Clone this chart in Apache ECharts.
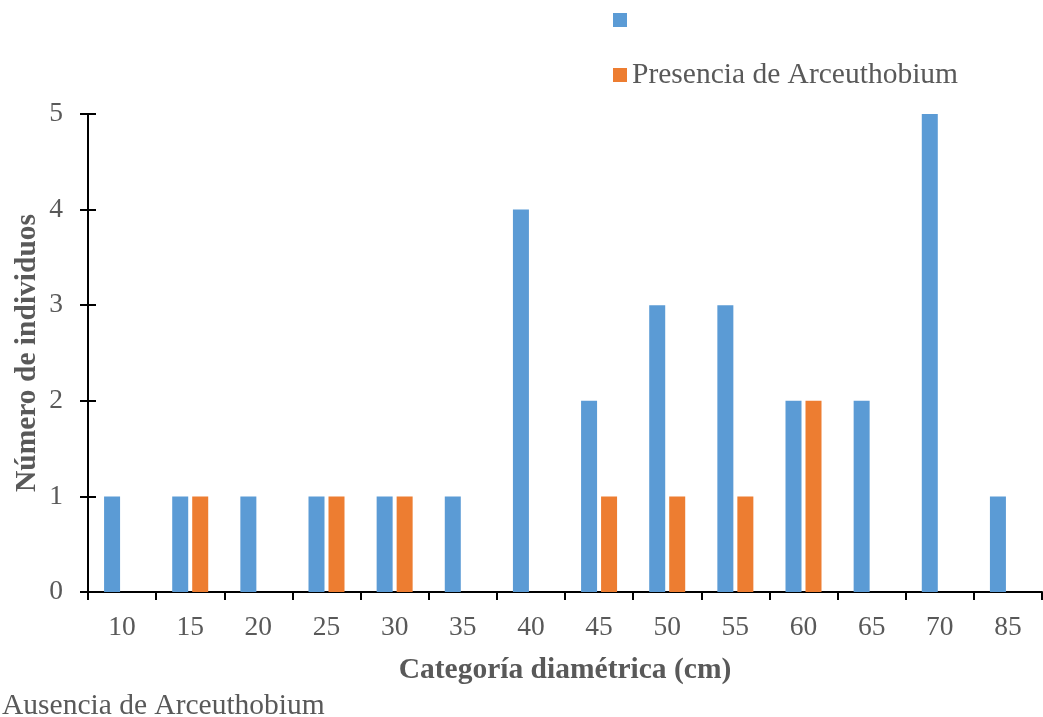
<!DOCTYPE html>
<html>
<head>
<meta charset="utf-8">
<script src="https://cdn.jsdelivr.net/npm/echarts@6/dist/echarts.min.js"></script>
<style>
  html, body { margin: 0; padding: 0; background: #fff; }
  #chart { width: 1043px; height: 717px; }
</style>
</head>
<body>
<div id="chart"></div>
<script>
// categorías diamétricas (cm)
var categorias = ['10', '15', '20', '25', '30', '35', '40', '45', '50', '55', '60', '65', '70', '85'];
var ausencia   = [1, 1, 1, 1, 1, 1, 4, 2, 3, 3, 2, 2, 5, 1];
var presencia  = [0, 1, 0, 1, 1, 0, 0, 1, 1, 1, 2, 0, 0, 0];
var yTicks     = [0, 1, 2, 3, 4, 5];

var nombreAus = 'Ausencia de Arceuthobium';
var nombrePre = 'Presencia de Arceuthobium';

var gris = '#595959';
var fuente = '"Liberation Serif", "Times New Roman", serif';

var chart = echarts.init(document.getElementById('chart'));

var option = {
    animation: false,
    textStyle: { fontFamily: fuente },
    grid: { left: 88, right: 1, top: 114, bottom: 125, containLabel: false },
    legend: {
        orient: 'vertical',
        left: 608,
        top: 0,
        itemWidth: 14,
        itemHeight: 14,
        itemGap: 25,
        icon: 'rect',
        data: [nombreAus, nombrePre],
        formatter: function (name) {
            // en el original el texto de la primera serie quedó abajo a la izquierda
            return name === nombreAus ? ' ' : name;
        },
        textStyle: { fontFamily: fuente, fontSize: 29.5, color: gris, lineHeight: 28 }
    },
    graphic: [{
        type: 'text',
        left: 2,
        top: 691,
        style: { text: nombreAus, font: '29.5px ' + fuente, fill: gris }
    }],
    xAxis: {
        type: 'category',
        data: categorias,
        name: 'Categoría diamétrica (cm)',
        nameLocation: 'middle',
        nameGap: 63,
        nameMoveOverlap: false,
        nameTextStyle: { fontFamily: fuente, fontSize: 29.5, fontWeight: 'bold', color: gris },
        axisLine: { lineStyle: { color: '#000', width: 2 } },
        axisTick: { show: true, length: 8, lineStyle: { color: '#000', width: 2 } },
        axisLabel: { fontFamily: fuente, fontSize: 27.5, color: gris, margin: 22 }
    },
    yAxis: [{
        type: 'value',
        min: yTicks[0],
        max: yTicks[yTicks.length - 1],
        interval: 1,
        name: 'Número de individuos',
        nameLocation: 'middle',
        nameGap: 46,
        nameMoveOverlap: false,
        nameTextStyle: { fontFamily: fuente, fontSize: 29.5, fontWeight: 'bold', color: gris },
        axisLine: { show: true, lineStyle: { color: '#000', width: 2 } },
        axisTick: { show: true, length: 8, lineStyle: { color: '#000', width: 2 } },
        axisLabel: { fontFamily: fuente, fontSize: 27.5, color: gris, margin: 25 },
        splitLine: { show: false }
    }, {
        // marcas hacia dentro para que crucen el eje
        type: 'value',
        position: 'left',
        min: yTicks[0],
        max: yTicks[yTicks.length - 1],
        interval: 1,
        axisLine: { show: false },
        axisTick: { show: true, inside: true, length: 8, lineStyle: { color: '#000', width: 2 } },
        axisLabel: { show: false },
        splitLine: { show: false }
    }],
    series: [{
        name: nombreAus,
        type: 'bar',
        data: ausencia,
        barWidth: 16,
        barGap: '25%',
        itemStyle: { color: '#5B9BD5' }
    }, {
        name: nombrePre,
        type: 'bar',
        data: presencia,
        barWidth: 16,
        barGap: '25%',
        itemStyle: { color: '#ED7D31' }
    }]
};

chart.setOption(option);
</script>
</body>
</html>
